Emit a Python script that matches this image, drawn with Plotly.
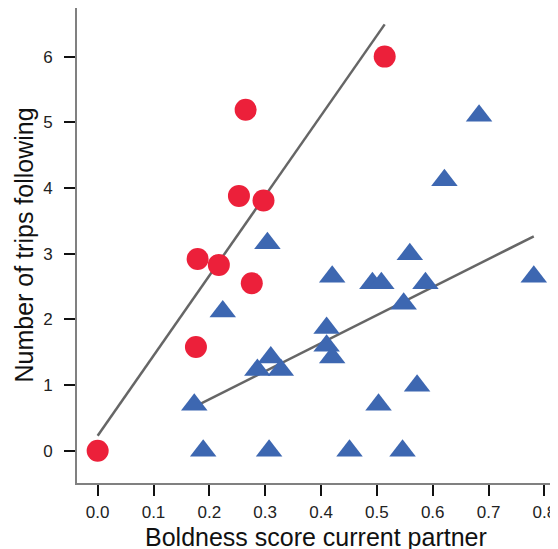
import numpy as np
import plotly.graph_objects as go

# Red circles (group 1)
red_x = [0.0, 0.176, 0.179, 0.217, 0.253, 0.265, 0.276, 0.297, 0.514]
red_y = [0.0, 1.58, 2.92, 2.83, 3.88, 5.19, 2.55, 3.81, 6.0]

# Blue triangles (group 2)
blue_x = [0.173, 0.189, 0.224, 0.286, 0.304, 0.307, 0.310, 0.328, 0.410, 0.410,
          0.420, 0.420, 0.451, 0.492, 0.503, 0.508, 0.546, 0.548, 0.559, 0.572,
          0.587, 0.621, 0.683, 0.781]
blue_y = [0.70, 0.0, 2.12, 1.23, 3.16, 0.0, 1.42, 1.23, 1.87, 1.60,
          1.42, 2.65, 0.0, 2.55, 0.70, 2.55, 0.0, 2.24, 2.99, 0.99,
          2.55, 4.12, 5.10, 2.65]

# Fitted lines (intercept, slope)
red_fit = (0.23, 12.18)
blue_fit = (-0.07, 4.27)

x_ticks = [0.0, 0.1, 0.2, 0.3, 0.4, 0.5, 0.6, 0.7, 0.8]
x_tick_labels = ["0.0", "0.1", "0.2", "0.3", "0.4", "0.5", "0.6", "0.7", "0.8"]
y_ticks = [0, 1, 2, 3, 4, 5, 6]
x_title = "Boldness score current partner"
y_title = "Number of trips following"

RED = "#EC203A"
BLUE = "#3D67B1"
LINE = "#666666"
FONT = "Liberation Sans, Arial, Helvetica, sans-serif"

def fit_line(xs, fit):
    lx = np.array([min(xs), max(xs)])
    return lx, fit[0] + fit[1] * lx

fig = go.Figure()
rx, ry = fit_line(red_x, red_fit)
bx, by = fit_line(blue_x, blue_fit)
fig.add_trace(go.Scatter(x=rx, y=ry, mode="lines", line=dict(color=LINE, width=2.5), hoverinfo="skip"))
fig.add_trace(go.Scatter(x=bx, y=by, mode="lines", line=dict(color=LINE, width=2.5), hoverinfo="skip"))
fig.add_trace(go.Scatter(x=red_x, y=red_y, mode="markers",
                         marker=dict(symbol="circle", size=22, color=RED, line=dict(width=0))))
fig.add_trace(go.Scatter(x=blue_x, y=blue_y, mode="markers",
                         marker=dict(symbol="triangle-up", size=23, color=BLUE, line=dict(width=0))))

# The page body has an 8px default margin, so the figure is sized 550x541
fig.update_layout(
    width=550, height=541,
    margin=dict(l=69, r=3, t=0, b=66),
    paper_bgcolor="white", plot_bgcolor="white",
    showlegend=False,
    font=dict(family=FONT, size=17, color="#222222"),
    annotations=[
        dict(text=x_title, xref="paper", yref="paper", x=0.5, y=0, xanchor="center",
             yanchor="middle", yshift=-54, showarrow=False,
             font=dict(family=FONT, size=25, color="#111111")),
        dict(text=y_title, xref="paper", yref="paper", x=0, y=0.5, xanchor="center",
             yanchor="middle", xshift=-54, textangle=-90, showarrow=False,
             font=dict(family=FONT, size=25, color="#111111")),
    ],
)
fig.update_xaxes(range=[-0.037, 0.819], tickvals=x_ticks, ticktext=x_tick_labels,
                 ticklabelstandoff=2, ticklabeloverflow="allow")
fig.update_yaxes(range=[-0.49, 6.74], tickvals=y_ticks, ticklabelstandoff=8)
common = dict(showgrid=False, zeroline=False, showline=True, linecolor="#808080",
              linewidth=2, mirror=True, ticks="outside", ticklen=11, tickwidth=2,
              tickcolor="#111111", automargin=False,
              tickfont=dict(family=FONT, size=17, color="#222222"))
fig.update_xaxes(**common)
fig.update_yaxes(**common)

fig.write_html("out.html")
